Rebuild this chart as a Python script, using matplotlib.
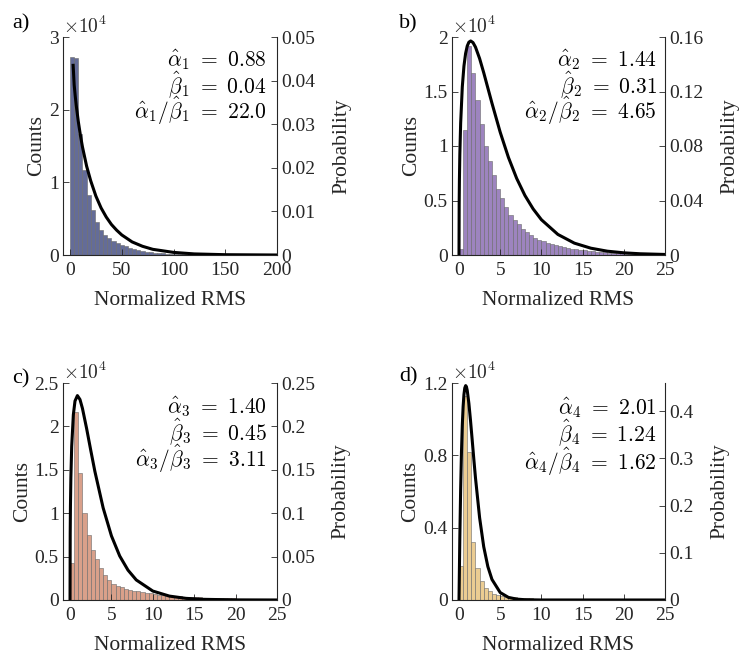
import numpy as np
import matplotlib
matplotlib.use("Agg")
import matplotlib.pyplot as plt
from matplotlib.ticker import FuncFormatter

plt.rcParams["font.family"] = ["Liberation Serif", "DejaVu Serif"]
plt.rcParams["mathtext.fontset"] = "cm"

# histogram counts (bins start at 0)
counts_a = [27200, 27100, 16600, 11700, 8200, 6200, 4500, 3400, 2700, 2300,
            1900, 1600, 1400, 1200, 1000, 850, 700, 580, 480, 400,
            330, 270, 220, 180, 140, 110, 90, 70, 50, 40]
counts_b = [550, 11500, 19200, 16700, 14200, 12000, 10000, 8600, 7300, 6100,
            5200, 4400, 3700, 3200, 2800, 2400, 2100, 1800, 1600, 1400,
            1250, 1100, 1000, 900, 800, 720, 650, 590, 530, 480,
            430, 390, 350, 310, 280, 250, 220, 190, 170, 150,
            130, 110, 95, 80, 70, 60, 50, 40, 35, 30]
counts_c = [4300, 21700, 14600, 10000, 7500, 5800, 4700, 3700, 2900, 2300,
            1900, 1650, 1450, 1300, 1180, 1080, 990, 900, 820, 750,
            690, 630, 580, 530, 490, 450, 410, 380, 350, 330,
            310, 290, 270, 255, 240, 225, 210, 200, 190, 180,
            170, 160, 150, 140, 130, 120, 110, 100, 90, 80]
counts_d = [1900, 11300, 8200, 3200, 1750, 1050, 680, 480, 340, 260,
            210, 180, 160, 140, 125, 110, 100, 90, 80, 70,
            62, 55, 48, 42, 37, 33, 29, 26, 23, 20,
            18, 16, 14, 12, 11, 10, 9, 8, 7, 6,
            5, 5, 4, 4, 3, 3, 2, 2, 2, 1]
bin_width = [4, 0.5, 0.5, 0.5]

# fitted gamma curves (probability)
curve_a_x = [3, 4, 5, 6, 8, 10, 12, 16, 20, 25, 30, 35, 40, 45, 50, 60, 70, 80, 100, 120, 150, 200]
curve_a_p = [0.0435, 0.0390, 0.0365, 0.0343, 0.0306, 0.0275, 0.0248, 0.0204, 0.0170, 0.0135,
             0.0108, 0.0087, 0.0070, 0.0057, 0.0046, 0.0030, 0.0020, 0.0013, 0.0006, 0.00025,
             0.00007, 0.0]
curve_b_x = [0, 0.02, 0.05, 0.1, 0.2, 0.4, 0.6, 0.8, 1.0, 1.2, 1.42, 1.7, 2.0, 2.5, 3, 4, 5,
             6, 7, 8, 9, 10, 12, 14, 16, 18, 20, 22, 25]
curve_b_p = [0, 0.0373, 0.0551, 0.0736, 0.0968, 0.1234, 0.1387, 0.1479, 0.1534, 0.1562,
             0.1571, 0.1559, 0.1526, 0.1442, 0.1338, 0.1114, 0.0901, 0.0716, 0.0562, 0.0437,
             0.0338, 0.0259, 0.0151, 0.0087, 0.0050, 0.0028, 0.0016, 0.0009, 0.0004]
curve_c_x = [0, 0.02, 0.05, 0.1, 0.2, 0.4, 0.6, 0.89, 1.2, 1.5, 2, 2.5, 3, 4, 5, 6, 7, 8,
             10, 12, 14, 16, 20, 25]
curve_c_p = [0, 0.0764, 0.1087, 0.1402, 0.1769, 0.2134, 0.2293, 0.2355, 0.2310, 0.2207,
             0.1977, 0.1726, 0.1482, 0.1061, 0.0739, 0.0507, 0.0344, 0.0231, 0.0103, 0.0045,
             0.0019, 0.0008, 0.00015, 0.00002]
curve_d_x = [0, 0.1, 0.2, 0.3, 0.4, 0.5, 0.6, 0.7, 0.81, 0.9, 1.0, 1.2, 1.4, 1.6, 1.8, 2.0,
             2.5, 3, 3.5, 4, 5, 6, 7, 8, 10, 25]
curve_d_p = [0, 0.1325, 0.2357, 0.3137, 0.3705, 0.4100, 0.4355, 0.4494, 0.4545, 0.4521,
             0.4442, 0.4167, 0.3799, 0.3393, 0.2982, 0.2589, 0.1745, 0.1129, 0.0709, 0.0436,
             0.0158, 0.0055, 0.0019, 0.0006, 0.00006, 0.0]

alphas = ["0.88", "1.44", "1.40", "2.01"]
betas = ["0.04", "0.31", "0.45", "1.24"]
ratios = ["22.0", "4.65", "3.11", "1.62"]
panel_labels = ["a)", "b)", "c)", "d)"]

bar_colors = ["#646c98", "#9d84bf", "#d9a08a", "#ebcc92"]
xlims = [(-6.8, 200), (-0.85, 25), (-0.85, 25), (-0.85, 25)]
xticks = [[0, 50, 100, 150, 200], [0, 5, 10, 15, 20, 25], [0, 5, 10, 15, 20, 25], [0, 5, 10, 15, 20, 25]]
count_ticks = [[0, 1e4, 2e4, 3e4], [0, 0.5e4, 1e4, 1.5e4, 2e4],
               [0, 0.5e4, 1e4, 1.5e4, 2e4, 2.5e4], [0, 0.4e4, 0.8e4, 1.2e4]]
prob_ticks = [[0, 0.01, 0.02, 0.03, 0.04, 0.05], [0, 0.04, 0.08, 0.12, 0.16],
              [0, 0.05, 0.1, 0.15, 0.2, 0.25], [0, 0.1, 0.2, 0.3, 0.4]]
prob_lims = [0.05, 0.16, 0.25, 0.46]
text_pos = [(0.953, [0.896, 0.78, 0.663]), (0.962, [0.896, 0.78, 0.663]),
            (0.953, [0.893, 0.776, 0.652]), (0.962, [0.887, 0.77, 0.635])]
label_pos = [(-0.238, 1.018), (-0.249, 1.018), (-0.238, 0.975), (-0.249, 0.985)]

counts = [counts_a, counts_b, counts_c, counts_d]
curves = [(curve_a_x, curve_a_p), (curve_b_x, curve_b_p), (curve_c_x, curve_c_p), (curve_d_x, curve_d_p)]

rects = [[63, 37, 277, 255], [452, 37, 665, 255], [63, 383, 277, 600], [452, 383, 665, 600]]
W, H = 744, 659
axis_col = "#262626"

fig = plt.figure(figsize=(W / 100, H / 100), dpi=100)

for i in range(4):
    x0, y0, x1, y1 = rects[i]
    ax = fig.add_axes([x0 / W, 1 - y1 / H, (x1 - x0) / W, (y1 - y0) / H])
    c = np.array(counts[i])
    edges = np.arange(len(c)) * bin_width[i]
    ax.bar(edges, c, width=bin_width[i], align="edge", color=bar_colors[i],
           edgecolor="#6a6a6a", linewidth=0.4)
    ax.set_xlim(*xlims[i])
    ax.set_ylim(0, count_ticks[i][-1])
    ax.set_xticks(xticks[i])
    ax.set_yticks(count_ticks[i])
    ax.yaxis.set_major_formatter(FuncFormatter(lambda v, p: "%g" % (v / 1e4)))
    ax.set_xlabel("Normalized RMS", fontsize=15.5, color=axis_col, labelpad=9)
    ax.set_ylabel("Counts", fontsize=15.5, color=axis_col, labelpad=2)
    ax.spines["top"].set_visible(False)
    ax.spines["right"].set_visible(False)
    for s in ["left", "bottom"]:
        ax.spines[s].set_color(axis_col)
        ax.spines[s].set_linewidth(0.8)
    ax.tick_params(direction="in", length=4, width=0.6, labelsize=14, colors=axis_col, pad=3)
    ax.tick_params(axis="x", pad=5)
    ax.text(0.0, 1.0, r"$\times10^4$", transform=ax.transAxes, fontsize=14,
            ha="left", va="bottom", color=axis_col)
    lx, ly = label_pos[i]
    ax.text(lx, ly, panel_labels[i], transform=ax.transAxes,
            fontsize=16, ha="left", va="bottom")

    ax2 = ax.twinx()
    ax2.plot(curves[i][0], curves[i][1], color="black", linewidth=2.2)
    ax2.set_ylim(0, prob_lims[i])
    ax2.set_yticks(prob_ticks[i])
    ax2.yaxis.set_major_formatter(FuncFormatter(lambda v, p: "%g" % round(v, 3)))
    ax2.set_ylabel("Probability", fontsize=15.5, color=axis_col, labelpad=12)
    ax2.spines["top"].set_visible(False)
    ax2.spines["left"].set_visible(False)
    ax2.spines["bottom"].set_visible(False)
    ax2.spines["right"].set_color(axis_col)
    ax2.spines["right"].set_linewidth(0.8)
    ax2.tick_params(direction="in", length=4, width=0.6, labelsize=14, colors=axis_col, pad=3)

    n = i + 1
    tx, tys = text_pos[i]
    lines = [r"$\hat{\alpha}_%d\ =\ %s$" % (n, alphas[i]),
             r"$\hat{\beta}_%d\ =\ %s$" % (n, betas[i]),
             r"$\hat{\alpha}_%d/\hat{\beta}_%d\ =\ %s$" % (n, n, ratios[i])]
    for s, ty in zip(lines, tys):
        ax2.text(tx, ty, s, transform=ax.transAxes, fontsize=15.5, ha="right", va="center")

fig.savefig("out.png", dpi=100)
